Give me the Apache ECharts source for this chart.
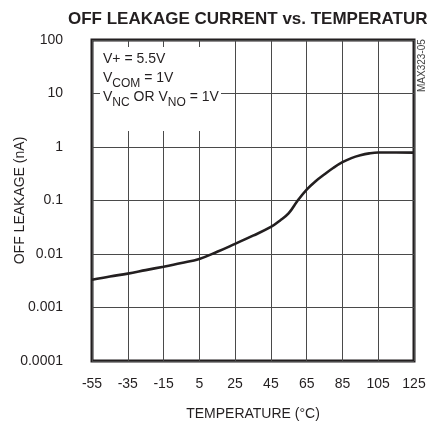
<!DOCTYPE html>
<html><head><meta charset="utf-8">
<script src="https://cdn.jsdelivr.net/npm/echarts@6/dist/echarts.min.js"></script>
<style>html,body{margin:0;padding:0;background:#fff}#c{width:427px;height:423px}</style>
</head><body><div id="c"></div>
<script>
const temps = [-55,-45,-35,-25,-15,-5,5,15,25,35,45,50,55,60,65,70,75,80,85,90,95,100,105,115,125];
const leakage = [0.0033,0.0038,0.0043,0.005,0.0058,0.0068,0.0081,0.011,0.0155,0.022,0.032,0.042,0.058,0.1,0.16,0.23,0.31,0.41,0.52,0.62,0.7,0.76,0.79,0.79,0.785];
const xTicks = [-55,-35,-15,5,25,45,65,85,105,125];
const yTicks = ['0.0001','0.001','0.01','0.1','1','10','100'];
const X0 = -55;
const FONT = '"Liberation Sans Narrow","Arial Narrow","Liberation Sans",Arial,sans-serif';
const INK = '#231f20';
const GRIDC = '#4a4a4a';

const chart = echarts.init(document.getElementById('c'));
chart.setOption({
  animation:false,
  title:{text:'OFF LEAKAGE CURRENT vs. TEMPERATUR',left:63,top:6,
    textStyle:{fontFamily:FONT,fontWeight:'bold',fontSize:17,color:INK}},
  grid:{left:92,right:13,top:40,height:321,show:true,borderColor:INK,borderWidth:3,containLabel:false,outerBoundsMode:'none'},
  xAxis:{type:'value',min:0,max:xTicks[xTicks.length-1]-X0,interval:20,
    name:'TEMPERATURE (°C)',nameLocation:'middle',nameGap:46,nameMoveOverlap:false,
    nameTextStyle:{fontFamily:FONT,fontSize:14,color:INK},
    axisLine:{show:false},axisTick:{show:false},
    axisLabel:{margin:16,fontFamily:FONT,fontSize:14,color:INK,formatter:v=>String(v+X0)},
    splitLine:{show:true,lineStyle:{color:GRIDC,width:1}}},
  yAxis:{type:'log',logBase:10,min:0.0001,max:100,
    name:'OFF LEAKAGE (nA)',nameLocation:'middle',nameGap:65,nameMoveOverlap:false,
    nameTextStyle:{fontFamily:FONT,fontSize:14,color:INK},
    axisLine:{show:false},axisTick:{show:false},
    axisLabel:{margin:29,fontFamily:FONT,fontSize:14,color:INK,
      formatter:v=>{const i=Math.round(Math.log10(v))+4;return yTicks[i]||'';}},
    splitLine:{show:true,lineStyle:{color:GRIDC,width:1}}},
  series:[{type:'line',data:temps.map((t,i)=>[t-X0,leakage[i]]),smooth:0.4,showSymbol:false,
    lineStyle:{color:INK,width:2.6},z:5}],
  graphic:[
    {type:'rect',left:100,top:47,shape:{width:121,height:84},style:{fill:'#fff'},z:3},
    {type:'text',left:103,top:52,z:4,style:{text:'V+ = 5.5V',font:'14px '+FONT,fill:INK}},
    {type:'text',left:103,top:71,z:4,style:{text:'{m|V}{s|COM}{m| = 1V}',fill:INK,
      rich:{m:{fontFamily:FONT,fontSize:14,lineHeight:18,verticalAlign:'top',fill:INK},
            s:{fontFamily:FONT,fontSize:12,lineHeight:18,padding:[7,0,0,0],verticalAlign:'top',fill:INK}}}},
    {type:'text',left:103,top:90,z:4,style:{text:'{m|V}{s|NC}{m| OR V}{s|NO}{m| = 1V}',fill:INK,
      rich:{m:{fontFamily:FONT,fontSize:14,lineHeight:18,verticalAlign:'top',fill:INK},
            s:{fontFamily:FONT,fontSize:12,lineHeight:18,padding:[7,0,0,0],verticalAlign:'top',fill:INK}}}},
    {type:'text',x:417,y:92,rotation:Math.PI/2,z:4,style:{text:'MAX323-05',font:'10px '+FONT,fill:'#444'}}
  ]
});
</script></body></html>
